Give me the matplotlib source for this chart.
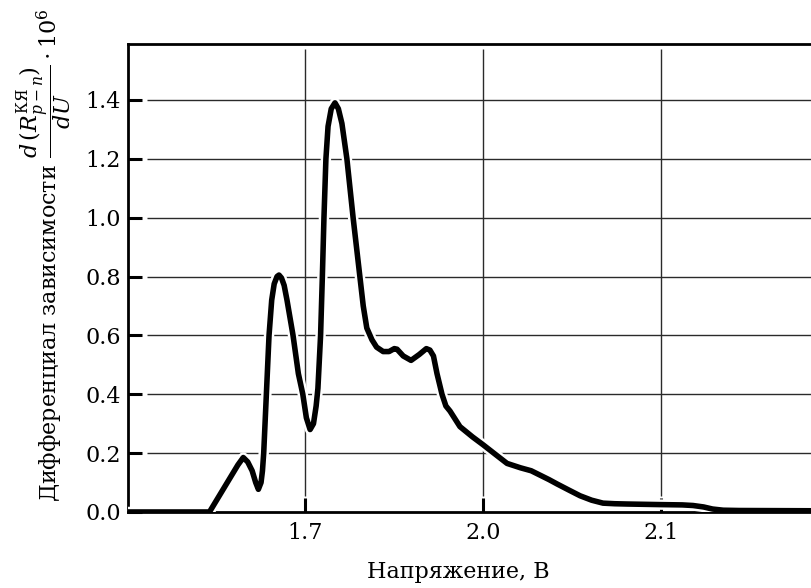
import numpy as np
import matplotlib
matplotlib.use('Agg')
import matplotlib.pyplot as plt
import matplotlib.patheffects as pe

# positions along the voltage axis (grid units) and the differential values
x_pos = [0.0, 0.46, 0.55, 0.62, 0.65, 0.675, 0.70, 0.72, 0.735, 0.75, 0.758,
         0.765, 0.78, 0.795, 0.81, 0.824, 0.84, 0.851, 0.865, 0.88, 0.896,
         0.93, 0.96, 0.985, 1.005, 1.026, 1.045, 1.06, 1.07, 1.085, 1.095,
         1.104, 1.115, 1.127, 1.145, 1.166, 1.185, 1.205, 1.233, 1.268, 1.306,
         1.325, 1.345, 1.374, 1.40, 1.437, 1.47, 1.50, 1.515, 1.55, 1.594,
         1.64, 1.68, 1.70, 1.72, 1.74, 1.768, 1.79, 1.813, 1.869, 1.94, 2.0,
         2.07, 2.134, 2.21, 2.27, 2.32, 2.37, 2.416, 2.48, 2.545, 2.61, 2.674,
         2.74, 2.81, 3.0, 3.12, 3.18, 3.24, 3.29, 3.35, 3.44, 3.9]
diff_vals = [0.0, 0.0, 0.09, 0.16, 0.185, 0.17, 0.14, 0.10, 0.077, 0.10, 0.14,
             0.2, 0.4, 0.6, 0.72, 0.775, 0.80, 0.805, 0.795, 0.77, 0.72,
             0.6, 0.47, 0.4, 0.32, 0.28, 0.30, 0.36, 0.42, 0.6, 0.8,
             1.0, 1.2, 1.31, 1.37, 1.39, 1.37, 1.32, 1.2, 1.0, 0.8,
             0.7, 0.625, 0.585, 0.56, 0.545, 0.545, 0.555, 0.553, 0.53, 0.515,
             0.535, 0.555, 0.55, 0.53, 0.47, 0.4, 0.36, 0.343, 0.29, 0.255, 0.228,
             0.195, 0.165, 0.15, 0.14, 0.125, 0.11, 0.095, 0.075, 0.055, 0.04, 0.03,
             0.028, 0.027, 0.025, 0.024, 0.022, 0.017, 0.01, 0.006, 0.005, 0.004]

x_ticks = [1, 2, 3]
x_labels = ['1.7', '2.0', '2.1']
y_ticks = [0.0, 0.2, 0.4, 0.6, 0.8, 1.0, 1.2, 1.4]
y_labels = ['0.0', '0.2', '0.4', '0.6', '0.8', '1.0', '1.2', '1.4']

plt.rcParams['font.family'] = ['DejaVu Serif']
plt.rcParams['mathtext.fontset'] = 'dejavuserif'

fig = plt.figure(figsize=(8.12, 5.88), dpi=100)
# right edge of the frame runs past the figure border
ax = fig.add_axes([0.1573, 0.1293, 0.8756, 0.7959])
ax.set_xlim(0, 4)
ax.set_ylim(0, 1.59)

# сетка, не доходящая до осей
ax.hlines(y_ticks[1:], 0.108, 4, colors='#2a2a2a', linewidth=1.0, zorder=1)
ax.vlines(x_ticks, 0.054, 1.573, colors='#2a2a2a', linewidth=1.0, zorder=1)

ax.plot(x_pos, diff_vals, color='black', linewidth=4.0, solid_joinstyle='round',
        solid_capstyle='round', zorder=3,
        path_effects=[pe.Stroke(linewidth=7.5, foreground='white'), pe.Normal()])

ax.set_xticks(x_ticks)
ax.set_xticklabels(x_labels)
ax.set_yticks(y_ticks)
ax.set_yticklabels(y_labels)
ax.tick_params(direction='in', length=10, width=2.2, labelsize=16, colors='black')
ax.tick_params(axis='y', pad=5)
ax.tick_params(axis='x', pad=7)

for side in ['left', 'top', 'bottom']:
    ax.spines[side].set_linewidth(2.0)
ax.spines['right'].set_visible(False)

ax.set_xlabel('Напряжение, В', fontsize=16)
ax.xaxis.set_label_coords(0.4645, -0.105)
ax.set_ylabel(r'Дифференциал зависимости $\dfrac{d\,(R_{p-n}^{\mathrm{КЯ}})}{dU}\cdot10^6$',
              fontsize=16)
ax.yaxis.set_label_coords(-0.075, 0.548)

plt.savefig('out.png', dpi=100)
